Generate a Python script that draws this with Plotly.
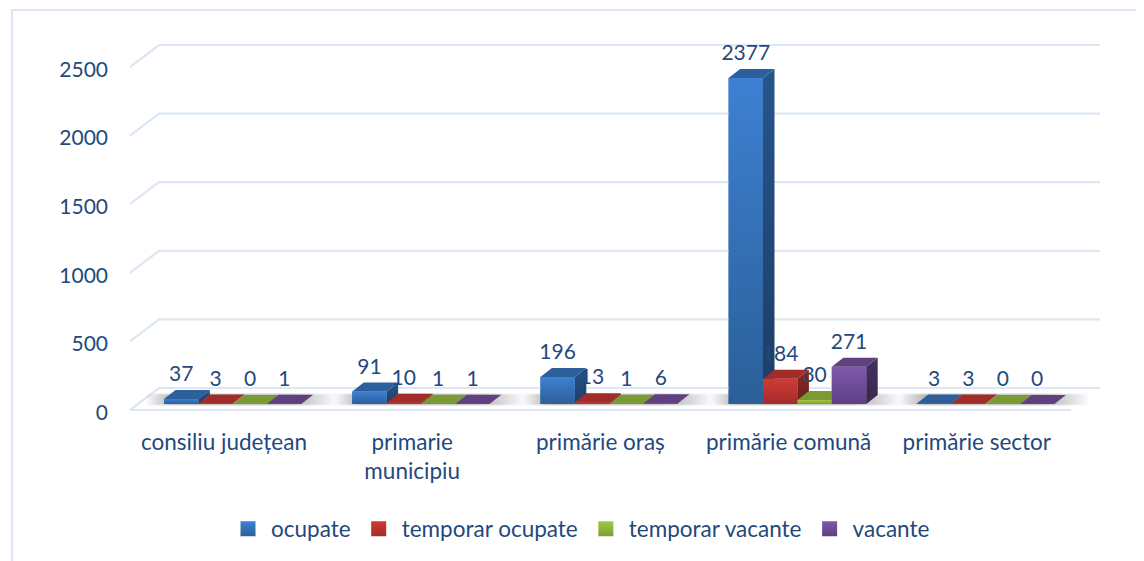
import plotly.graph_objects as go

CATEGORIES = ["consiliu județean", "primarie<br>municipiu", "primărie oraș", "primărie comună", "primărie sector"]
OCUPATE = [37, 91, 196, 2377, 3]
TEMP_OCUPATE = [3, 10, 13, 184, 3]
TEMP_VACANTE = [0, 1, 1, 30, 0]
VACANTE = [1, 1, 6, 271, 0]
SERIES_NAMES = ["ocupate", "temporar ocupate", "temporar vacante", "vacante"]
Y_TICKS = [0, 500, 1000, 1500, 2000, 2500]

TEXT = "#1F497D"
GRID = "#DCE6F4"
FONT = "Lato"
FS_TEXT = 22.5
FS_NUM = 21
STYLES = [
    dict(front=("#3E80D2", "#2B5F98"), side=("#27558A", "#1C3D66"), top="#2C5F9C", mid="#3470B5"),
    dict(front=("#CF3B37", "#A52B29"), side=("#842622", "#6E1F1C"), top="#A02D2A", mid="#B93230"),
    dict(front=("#A4C940", "#7F9D34"), side=("#64802F", "#566E28"), top="#7A9A34", mid="#92B33A"),
    dict(front=("#7F5AAC", "#5D3F84"), side=("#443062", "#38274F"), top="#5F4180", mid="#6E4C98"),
]

# The page body has an 8 px margin; all px values below are page pixels.
OFF = 8
W, H = 1144 - OFF, 561 - OFF
PLOT_L, PLOT_T, PLOT_R, PLOT_B = 112, 10, 1144, 426
PX_X0, PX_CAT = 224.0, 188.2   # px of first category centre, px per category
PX_Y0, PX_V = 404.0, 0.1372    # px of value 0 on the bars' front, px per unit


def xu(px):
    return (px - PX_X0) / PX_CAT


def vu(py):
    return (PX_Y0 - py) / PX_V


def paper_x(px):
    return (px - PLOT_L) / (PLOT_R - PLOT_L)


def paper_y(py):
    return (PLOT_B - py) / (PLOT_B - PLOT_T)


BAR_W = 34.4 / PX_CAT
GROUP_START = (164.0 - PX_X0) / PX_CAT
DX = 11.5 / PX_CAT
DY = 9 / PX_V
LABEL_UP = 23 / PX_V
FRONT = vu(410)
BACK = vu(388)
TICK_POS = vu(412.5)

fig = go.Figure()
values = [OCUPATE, TEMP_OCUPATE, TEMP_VACANTE, VACANTE]
cats = range(len(CATEGORIES))

# base bars
for j, vals in enumerate(values):
    fig.add_trace(go.Bar(
        x=[i + GROUP_START + (j + 0.5) * BAR_W for i in cats], y=vals, width=BAR_W,
        name=SERIES_NAMES[j], marker=dict(color=STYLES[j]["mid"], line_width=0),
        showlegend=False, hoverinfo="skip"))

# legend entries with larger square swatches
for j, name in enumerate(SERIES_NAMES):
    fig.add_trace(go.Scatter(
        x=[None], y=[None], mode="markers", name=name,
        marker=dict(symbol="square", size=15, color=STYLES[j]["front"][0],
                    gradient=dict(type="vertical", color=STYLES[j]["front"][1]),
                    line_width=0),
        hoverinfo="skip"))

# perspective gridlines
gx, gy = [], []
for t in Y_TICKS:
    gx += [xu(130), xu(159), xu(1100), None]
    gy += [t + FRONT, t + BACK, t + BACK, None]
gx += [xu(130), xu(1071)]
gy += [FRONT, FRONT]
fig.add_trace(go.Scatter(x=gx, y=gy, mode="lines", line=dict(color=GRID, width=2.2),
                         showlegend=False, hoverinfo="skip"))

# soft shadows on the floor: an outer faint layer and an inner denser one
for i in cats:
    x0 = i + GROUP_START
    x1 = x0 + 4 * BAR_W
    for pad, alpha in ((1.0, 0.22), (0.25, 0.38)):
        col = "rgba(110,110,110,{a})"
        fig.add_trace(go.Scatter(
            x=[x0 - 0.10, x1 + 0.19, x1 + 0.19, x0 - 0.10, x0 - 0.10],
            y=[-pad * 12, -pad * 12, DY + pad * 12, DY + pad * 12, -pad * 12],
            mode="lines", line_width=0, fill="toself",
            fillgradient=dict(type="horizontal", colorscale=[
                [0, col.format(a=0)], [0.15, col.format(a=alpha)],
                [0.75, col.format(a=alpha)], [1, col.format(a=0)]]),
            showlegend=False, hoverinfo="skip"))


def poly(xs, ys, color=None, grad=None):
    kw = dict(fillcolor=color) if color else dict(fillgradient=dict(
        type="vertical", colorscale=[[0, grad[1]], [1, grad[0]]]))
    fig.add_trace(go.Scatter(x=xs + xs[:1], y=ys + ys[:1], mode="lines", line_width=0,
                             fill="toself", showlegend=False, hoverinfo="skip", **kw))


# 3-D faces, painted left to right so that each bar covers its neighbour's side
for i in cats:
    for j, vals in enumerate(values):
        v = vals[i]
        s = STYLES[j]
        a = i + GROUP_START + j * BAR_W
        b = a + BAR_W
        poly([b, b + DX, b + DX, b], [0, DY, v + DY, v], grad=s["side"])
        poly([a, b, b + DX, a + DX], [v, v, v + DY, v + DY], color=s["top"])
        if v > 0:
            poly([a, b, b, a], [0, 0, v, v], grad=s["front"])

# data labels
lx, ly, lt = [], [], []
for i in cats:
    for j, vals in enumerate(values):
        lx.append(i + GROUP_START + (j + 0.5) * BAR_W)
        ly.append(vals[i] + LABEL_UP)
        lt.append(str(vals[i]))
fig.add_trace(go.Scatter(x=lx, y=ly, text=lt, mode="text", textposition="middle center",
                         textfont=dict(family=FONT, size=FS_NUM, color=TEXT),
                         showlegend=False, hoverinfo="skip"))

fig.update_layout(
    width=W, height=H, autosize=False,
    margin=dict(l=PLOT_L - OFF, r=0, t=PLOT_T - OFF, b=H + OFF - PLOT_B, pad=0),
    paper_bgcolor="white", plot_bgcolor="white",
    barmode="overlay",
    font=dict(family=FONT, size=FS_TEXT, color=TEXT),
    xaxis=dict(range=[xu(PLOT_L), xu(PLOT_R)], tickmode="array", tickvals=list(cats),
               ticktext=CATEGORIES, showgrid=False, zeroline=False, showline=False,
               ticks="", tickangle=0, ticklabelstandoff=0,
               tickfont=dict(family=FONT, size=FS_TEXT, color=TEXT)),
    yaxis=dict(range=[vu(PLOT_B), vu(PLOT_T)], tickmode="array",
               tickvals=[t + TICK_POS for t in Y_TICKS], ticktext=[str(t) for t in Y_TICKS],
               showgrid=False, zeroline=False, showline=False, ticks="", ticklabelstandoff=3,
               tickfont=dict(family=FONT, size=FS_NUM, color=TEXT)),
    legend=dict(orientation="h", xanchor="left", yanchor="middle",
                x=paper_x(225), y=paper_y(529), itemwidth=36,
                font=dict(family=FONT, size=FS_TEXT, color=TEXT), traceorder="normal",
                itemclick=False, itemdoubleclick=False),
    showlegend=True,
    shapes=[dict(type="path", xref="paper", yref="paper",
                 path="M {x0} {y0} L {x0} {y1} L {x1} {y1}".format(
                     x0=paper_x(12), y0=paper_y(561), y1=paper_y(10), x1=paper_x(1144)),
                 line=dict(color=GRID, width=2.2))],
)
fig.write_html("out.html")
